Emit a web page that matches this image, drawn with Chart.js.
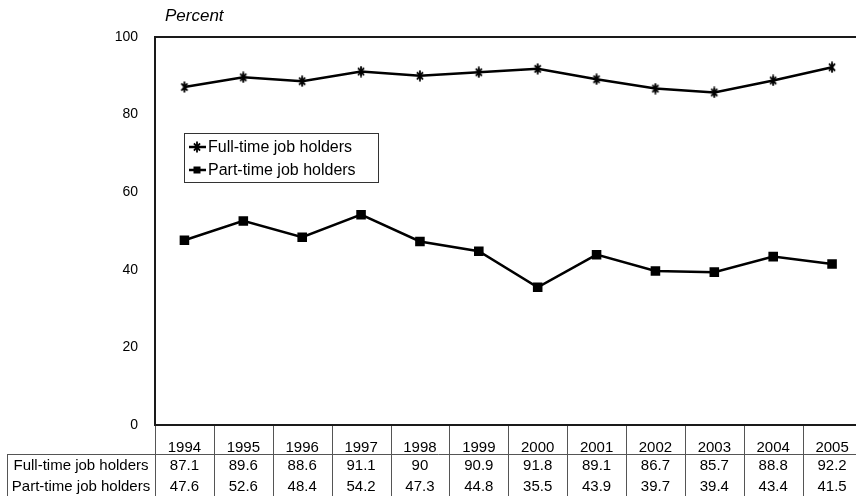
<!DOCTYPE html>
<html>
<head>
<meta charset="utf-8">
<script src="https://cdn.jsdelivr.net/npm/chart.js@4/dist/chart.umd.min.js"></script>
<style>
  html, body { margin: 0; padding: 0; background: #fff; overflow: hidden; }
  #wrap { width: 856px; height: 496px; overflow: hidden; position: relative; }
  canvas { display: block; }
</style>
</head>
<body>
<div id="wrap"><canvas id="c" width="870" height="496"></canvas></div>
<script>
// Share of multiple job holders, by type of primary job, 1994-2005
const years = ['1994', '1995', '1996', '1997', '1998', '1999', '2000', '2001', '2002', '2003', '2004', '2005'];
const fullTime = [87.1, 89.6, 88.6, 91.1, 90, 90.9, 91.8, 89.1, 86.7, 85.7, 88.8, 92.2];
const partTime = [47.6, 52.6, 48.4, 54.2, 47.3, 44.8, 35.5, 43.9, 39.7, 39.4, 43.4, 41.5];
const seriesNames = ['Full-time job holders', 'Part-time job holders'];
const yTicks = [0, 20, 40, 60, 80, 100];
const axisTitle = 'Percent';

const FONT = '"Liberation Sans", Arial, Helvetica, sans-serif';
const INK = '#000';
const FRAME = '#1a1a1a';
const RULE = '#555';

// asterisk marker for the full-time series
function makeAsterisk(size, lw) {
  const c = document.createElement('canvas');
  c.width = size; c.height = size;
  const g = c.getContext('2d');
  const m = size / 2, r = size / 2 - 0.5;
  g.strokeStyle = INK;
  g.lineWidth = lw;
  g.lineCap = 'butt';
  g.beginPath();
  g.moveTo(m, m - r); g.lineTo(m, m + r);
  const ang = 50 * Math.PI / 180;
  const dx = r * 0.85 * Math.cos(ang), dy = r * 0.85 * Math.sin(ang);
  g.moveTo(m - dx, m - dy); g.lineTo(m + dx, m + dy);
  g.moveTo(m - dx, m + dy); g.lineTo(m + dx, m - dy);
  g.stroke();
  return c;
}
const starMarker = makeAsterisk(12, 1.8);

const tablePlugin = {
  id: 'frameTableLegend',
  afterDraw(chart) {
    const { ctx, chartArea: a, scales } = chart;
    const x = scales.x;
    const W = chart.width, H = chart.height;
    ctx.save();

    // plot frame (left, top, bottom)
    ctx.strokeStyle = FRAME;
    ctx.lineWidth = 2;
    ctx.beginPath();
    ctx.moveTo(a.left, a.bottom); ctx.lineTo(a.left, a.top - 1);
    ctx.moveTo(a.left - 1, a.top); ctx.lineTo(W, a.top);
    ctx.moveTo(a.left - 1, a.bottom); ctx.lineTo(W, a.bottom);
    ctx.stroke();

    // axis title
    ctx.fillStyle = INK;
    ctx.font = 'italic 17px ' + FONT;
    ctx.textAlign = 'left';
    ctx.textBaseline = 'middle';
    ctx.fillText(axisTitle, a.left + 10, 16);

    // data table rules
    const half = (x.getPixelForValue(1) - x.getPixelForValue(0)) / 2;
    const rowLine = a.bottom + 29;
    const labelLeft = 7;
    ctx.strokeStyle = RULE;
    ctx.lineWidth = 1;
    ctx.beginPath();
    for (let i = 0; i <= years.length; i++) {
      const bx = Math.round(x.getPixelForValue(i) - half) + 0.5;
      ctx.moveTo(bx, a.bottom + 1); ctx.lineTo(bx, H);
    }
    ctx.moveTo(labelLeft + 0.5, rowLine); ctx.lineTo(labelLeft + 0.5, H);
    ctx.moveTo(labelLeft, rowLine + 0.5); ctx.lineTo(W, rowLine + 0.5);
    ctx.stroke();

    // data table text
    const rows = [fullTime, partTime];
    const rowY = [rowLine + 12, rowLine + 33];
    ctx.font = '15px ' + FONT;
    ctx.fillStyle = INK;
    ctx.textAlign = 'center';
    ctx.textBaseline = 'middle';
    rows.forEach((vals, r) => {
      ctx.fillText(seriesNames[r], (labelLeft + a.left) / 2, rowY[r]);
      vals.forEach((v, i) => ctx.fillText(String(v), x.getPixelForValue(i), rowY[r]));
    });

    // legend box
    const lx = 184, ly = 133, lw = 194, lh = 49;
    ctx.strokeStyle = '#333';
    ctx.lineWidth = 1;
    ctx.strokeRect(lx + 0.5, ly + 0.5, lw, lh);
    const items = chart.data.datasets;
    const itemY = [ly + 14, ly + 37];
    ctx.font = '16px ' + FONT;
    ctx.textAlign = 'left';
    items.forEach((ds, i) => {
      const yy = itemY[i];
      ctx.strokeStyle = ds.borderColor;
      ctx.lineWidth = 2.5;
      ctx.beginPath();
      ctx.moveTo(lx + 5, yy); ctx.lineTo(lx + 22, yy);
      ctx.stroke();
      const mx = lx + 13;
      if (ds.pointStyle === 'rect') {
        ctx.fillStyle = INK;
        ctx.fillRect(mx - 3.5, yy - 3.5, 7, 7);
      } else {
        ctx.drawImage(ds.pointStyle, mx - 6, yy - 6);
      }
      ctx.fillStyle = INK;
      ctx.fillText(ds.label, lx + 24, yy + 1);
    });

    ctx.restore();
  }
};

new Chart(document.getElementById('c'), {
  type: 'line',
  data: {
    labels: years,
    datasets: [
      {
        label: seriesNames[0],
        data: fullTime,
        borderColor: INK,
        backgroundColor: INK,
        borderWidth: 2.5,
        tension: 0,
        pointStyle: starMarker,
        pointRadius: 6
      },
      {
        label: seriesNames[1],
        data: partTime,
        borderColor: INK,
        backgroundColor: INK,
        borderWidth: 2.5,
        tension: 0,
        pointStyle: 'rect',
        pointRadius: 5
      }
    ]
  },
  options: {
    responsive: false,
    animation: false,
    devicePixelRatio: 1,
    layout: { padding: { top: 37, right: 4, bottom: 0, left: 0 } },
    plugins: { legend: { display: false }, tooltip: { enabled: false } },
    scales: {
      x: {
        type: 'category',
        offset: true,
        grid: { display: false, drawTicks: false },
        border: { display: false },
        ticks: {
          color: INK,
          font: { family: FONT, size: 15 },
          padding: 14,
          maxRotation: 0,
          autoSkip: false
        },
        afterFit(s) { s.height = 71; }
      },
      y: {
        min: 0,
        max: 100,
        afterBuildTicks(s) { s.ticks = yTicks.map(v => ({ value: v })); },
        grid: { display: false, drawTicks: false },
        border: { display: false },
        ticks: {
          color: INK,
          font: { family: FONT, size: 14 },
          padding: 17
        },
        afterFit(s) { s.width = 155; }
      }
    }
  },
  plugins: [tablePlugin]
});
</script>
</body>
</html>
